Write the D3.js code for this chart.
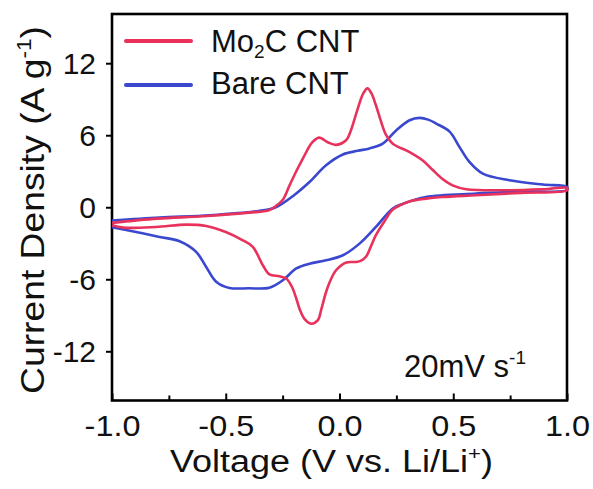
<!DOCTYPE html>
<html>
<head>
<meta charset="utf-8">
<script src="https://cdn.jsdelivr.net/npm/d3@7"></script>
<style>
  body { margin: 0; background: #fff; }
  svg { display: block; font-family: "Liberation Sans", Arial, sans-serif; }
  .axis path { display: none; }
  .axis line { stroke: #000; stroke-width: 2; }
  .axis text { font-size: 30px; fill: #111; }
</style>
</head>
<body>
<svg id="chart" width="593" height="489"></svg>
<script>
'use strict';

// Mo2C CNT, anodic sweep (-1 -> 1) then cathodic sweep (1 -> -1)
var mo2cVolt = [-1.0, -0.8, -0.6, -0.4, -0.31, -0.28, -0.25, -0.22, -0.19, -0.16, -0.12, -0.09, -0.05, -0.015, 0.03, 0.05, 0.08, 0.105, 0.123, 0.14, 0.16, 0.185, 0.205, 0.234, 0.308, 0.366, 0.41, 0.45, 0.5, 0.557, 0.75, 0.9, 1.0,
  1.0, 0.8, 0.6, 0.45, 0.38, 0.31, 0.27, 0.234, 0.2, 0.16, 0.135, 0.117, 0.095, 0.073, 0.03, -0.015, -0.04, -0.059, -0.08, -0.095, -0.125, -0.154, -0.175, -0.19, -0.21, -0.234, -0.264, -0.308, -0.337, -0.381, -0.425, -0.5, -0.586, -0.674, -0.806, -0.95, -1.0];
var mo2cCurrent = [-1.3, -0.95, -0.75, -0.45, -0.25, 0.1, 0.6, 1.8, 3.0, 4.1, 5.4, 5.8, 5.4, 5.2, 5.6, 6.4, 8.2, 9.5, 9.9, 9.5, 8.5, 7.0, 6.0, 5.3, 4.6, 3.9, 3.1, 2.4, 1.8, 1.5, 1.42, 1.5, 1.6,
  1.4, 1.2, 1.0, 0.85, 0.72, 0.5, 0.2, -0.2, -1.1, -2.33, -3.4, -4.1, -4.45, -4.56, -4.6, -5.25, -6.1, -7.06, -8.5, -9.4, -9.7, -9.3, -8.5, -7.6, -6.6, -5.94, -5.75, -5.6, -4.83, -3.3, -2.75, -2.06, -1.56, -1.45, -1.64, -1.7, -1.5];

// Bare CNT
var bareVolt = [-1.0, -0.79, -0.57, -0.35, -0.28, -0.2, -0.132, -0.059, 0.015, 0.08, 0.132, 0.19, 0.249, 0.308, 0.352, 0.39, 0.425, 0.484, 0.527, 0.571, 0.63, 0.747, 0.894, 1.0,
  1.0, 0.8, 0.6, 0.38, 0.28, 0.234, 0.16, 0.088, 0.015, -0.059, -0.132, -0.19, -0.249, -0.308, -0.4, -0.484, -0.542, -0.586, -0.63, -0.703, -0.791, -0.894, -1.0];
var bareCurrent = [-1.1, -0.85, -0.67, -0.3, 0.0, 1.0, 2.1, 3.5, 4.4, 4.7, 4.9, 5.3, 6.4, 7.25, 7.45, 7.3, 6.97, 6.3, 5.03, 3.78, 2.8, 2.25, 1.89, 1.7,
  1.45, 1.3, 1.14, 0.86, 0.3, -0.1, -1.64, -3.03, -4.0, -4.42, -4.7, -5.1, -6.08, -6.7, -6.75, -6.72, -6.2, -4.97, -3.72, -2.83, -2.47, -2.06, -1.67];

var xTicks = [-1.0, -0.5, 0.0, 0.5, 1.0];
var xTickLabels = ["-1.0", "-0.5", "0.0", "0.5", "1.0"];
var xMinorTicks = [-0.75, -0.25, 0.25, 0.75];
var yTicks = [12, 6, 0, -6, -12];
var yTickLabels = ["12", "6", "0", "-6", "-12"];

var seriesNames = ["Mo\u2082C CNT", "Bare CNT"];
var seriesColors = ["#e8325c", "#3a48cf"];

var Chart = (function() {

  function Chart(config) {
    this.opt = config;
    this.init();
  }

  Chart.prototype.init = function() {
    var svg = d3.select(this.opt.el);
    this.svg = svg;

    var left = 112, right = 567, top = 14, bottom = 400.5;
    var x = d3.scaleLinear().domain([-1, 1]).range([left, right]);
    var y = d3.scaleLinear().domain([-16.1, 16.1]).range([bottom, top]);
    this.x = x;
    this.y = y;

    this.drawAxes(left, right, top, bottom);
    this.drawLines();
    this.drawLabels();
  };

  Chart.prototype.drawAxes = function(left, right, top, bottom) {
    var svg = this.svg, x = this.x, y = this.y;

    // minor ticks (inward)
    svg.append("g")
      .attr("class", "axis")
      .attr("transform", "translate(0," + bottom + ")")
      .call(d3.axisBottom(x).tickValues(xMinorTicks).tickSize(-5).tickFormat(""));

    // major x ticks (inward), labels below
    var gx = svg.append("g")
      .attr("class", "axis")
      .attr("transform", "translate(0," + bottom + ")")
      .call(d3.axisBottom(x).tickValues(xTicks).tickSize(-7)
        .tickFormat(function(d, i) { return xTickLabels[i]; }));
    gx.selectAll("text")
      .attr("y", 36)
      .attr("dy", 0)
      .attr("transform", "scale(1.08,1)");

    // y ticks (outward)
    var gy = svg.append("g")
      .attr("class", "axis")
      .attr("transform", "translate(" + left + ",0)")
      .call(d3.axisLeft(y).tickValues(yTicks).tickSize(6).tickPadding(10)
        .tickFormat(function(d, i) { return yTickLabels[i]; }));
    gy.selectAll("text")
      .attr("dy", "0.33em");

    // frame
    svg.append("rect")
      .attr("x", left)
      .attr("y", top)
      .attr("width", right - left)
      .attr("height", bottom - top)
      .attr("fill", "none")
      .attr("stroke", "#000")
      .attr("stroke-width", 2.6);
  };

  Chart.prototype.drawLines = function() {
    var x = this.x, y = this.y;
    var line = d3.line()
      .x(function(d) { return x(d[0]); })
      .y(function(d) { return y(d[1]); })
      .curve(d3.curveCatmullRom.alpha(0.5));

    var bare = bareVolt.map(function(v, i) { return [v, bareCurrent[i]]; });
    var mo2c = mo2cVolt.map(function(v, i) { return [v, mo2cCurrent[i]]; });

    this.svg.append("path")
      .datum(bare)
      .attr("d", line)
      .attr("fill", "none")
      .attr("stroke", seriesColors[1])
      .attr("stroke-width", 2.6)
      .attr("stroke-linejoin", "round");

    this.svg.append("path")
      .datum(mo2c)
      .attr("d", line)
      .attr("fill", "none")
      .attr("stroke", seriesColors[0])
      .attr("stroke-width", 2.6)
      .attr("stroke-linejoin", "round");
  };

  Chart.prototype.drawLabels = function() {
    var svg = this.svg;

    // legend
    var legendY = [41, 85];
    seriesNames.forEach(function(name, i) {
      svg.append("line")
        .attr("x1", 126).attr("x2", 191)
        .attr("y1", legendY[i]).attr("y2", legendY[i])
        .attr("stroke", seriesColors[i])
        .attr("stroke-width", 4)
        .attr("stroke-linecap", "round");
    });

    var t1 = svg.append("text")
      .attr("x", 211).attr("y", 52)
      .attr("font-size", 31)
      .attr("fill", "#111");
    t1.append("tspan").text("Mo");
    t1.append("tspan").attr("font-size", 19).attr("dy", 6).text("2");
    t1.append("tspan").attr("dy", -6).text("C CNT");

    svg.append("text")
      .attr("x", 211).attr("y", 94)
      .attr("font-size", 31)
      .attr("fill", "#111")
      .text("Bare CNT");

    // scan rate
    var t2 = svg.append("text")
      .attr("x", 404).attr("y", 377)
      .attr("font-size", 31)
      .attr("fill", "#111");
    t2.append("tspan").text("20mV s");
    t2.append("tspan").attr("font-size", 19).attr("dy", -13).text("-1");

    // x axis title
    var tx = svg.append("text")
      .attr("x", 170).attr("y", 472)
      .attr("font-size", 31)
      .attr("fill", "#111")
      .attr("textLength", 323)
      .attr("lengthAdjust", "spacingAndGlyphs");
    tx.append("tspan").text("Voltage (V vs. Li/Li");
    tx.append("tspan").attr("font-size", 19).attr("dy", -12).text("+");
    tx.append("tspan").attr("dy", 12).text(")");

    // y axis title
    var ty = svg.append("text")
      .attr("transform", "translate(44,394) rotate(-90)")
      .attr("x", 0).attr("y", 0)
      .attr("font-size", 33)
      .attr("fill", "#111")
      .attr("textLength", 368)
      .attr("lengthAdjust", "spacingAndGlyphs");
    ty.append("tspan").text("Current Density (A g");
    ty.append("tspan").attr("font-size", 20).attr("dy", -13).text("-1");
    ty.append("tspan").attr("dy", 13).text(")");
  };

  return Chart;

})();

var chart = new Chart({ el: "#chart" });
</script>
</body>
</html>
